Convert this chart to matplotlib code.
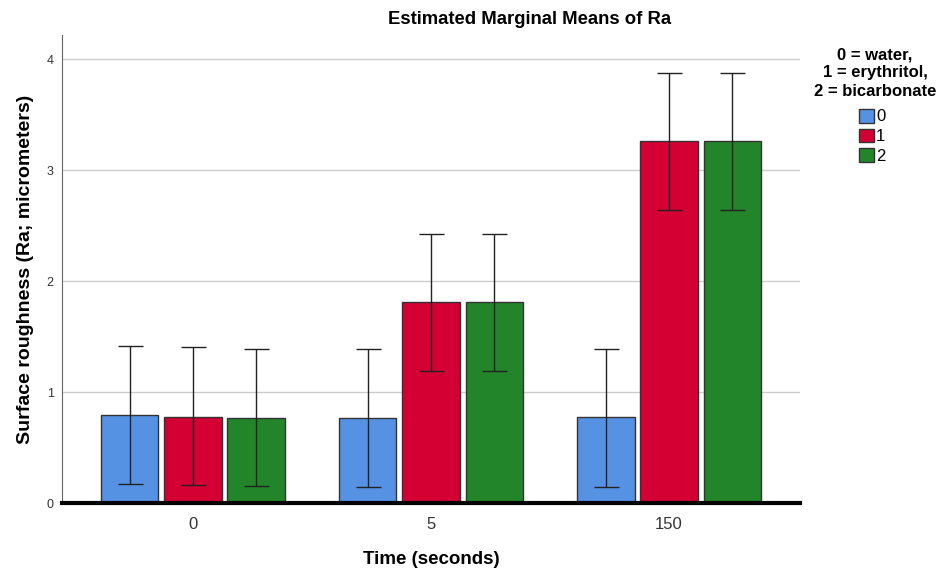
import matplotlib
matplotlib.use("Agg")
import matplotlib.pyplot as plt
import numpy as np

plt.rcParams['font.family'] = ['Liberation Sans', 'DejaVu Sans']

times = ["0", "5", "150"]
groups = ["0", "1", "2"]
means = {
    "0": [0.79, 0.77, 0.775],
    "1": [0.775, 1.81, 3.26],
    "2": [0.765, 1.81, 3.26],
}
lower = {
    "0": [0.17, 0.145, 0.145],
    "1": [0.16, 1.19, 2.645],
    "2": [0.15, 1.19, 2.645],
}
upper = {
    "0": [1.415, 1.39, 1.39],
    "1": [1.405, 2.425, 3.88],
    "2": [1.39, 2.425, 3.88],
}
colors = {"0": "#5592E3", "1": "#D40034", "2": "#23852A"}
yticks = [0, 1, 2, 3, 4]

fig = plt.figure(figsize=(9.42, 5.70), dpi=100)
ax = fig.add_axes([62/942, 1 - 503/570, 738/942, 468/570])

x = np.arange(len(times))
width = 0.24
step = 0.265
for i, g in enumerate(groups):
    pos = x + (i - 1) * step
    m = np.array(means[g])
    lo = np.array(lower[g])
    hi = np.array(upper[g])
    ax.bar(pos, m, width=width, color=colors[g], edgecolor="#333333",
           linewidth=1.0, label=g, zorder=3)
    ax.errorbar(pos, m, yerr=[m - lo, hi - m], fmt="none", ecolor="#222222",
                elinewidth=1.0, capsize=9, capthick=1.0, zorder=4)

ax.set_xlim(-0.55, 2.55)
ax.set_ylim(0, 4.22)
ax.set_yticks(yticks)
ax.set_yticklabels([str(t) for t in yticks], fontsize=9, color="#333333")
ax.set_xticks(x)
ax.set_xticklabels(times, fontsize=12, color="#333333")
ax.tick_params(axis="x", length=0, pad=10)
ax.tick_params(axis="y", length=0, pad=6)
ax.yaxis.grid(True, color="#cccccc", linewidth=1.0, zorder=0)
ax.set_axisbelow(True)
for s in ["top", "right"]:
    ax.spines[s].set_visible(False)
ax.spines["left"].set_color("#666666")
ax.spines["left"].set_linewidth(0.8)
ax.spines["bottom"].set_color("black")
ax.spines["bottom"].set_linewidth(3)
ax.spines["bottom"].set_zorder(5)

ax.set_xlabel("Time (seconds)", fontsize=13.5, fontweight="bold", labelpad=14)
ax.set_ylabel("Surface roughness (Ra; micrometers)", fontsize=14,
              fontweight="bold", labelpad=9)

fig.text(530/942, 1 - 20/570, "Estimated Marginal Means of Ra", ha="center",
         va="center", fontsize=13.3, fontweight="bold")

leg = fig.legend(loc="upper left", bbox_to_anchor=(852/942, 1 - 102/570),
                 frameon=False, fontsize=12, handlelength=0.9, handleheight=0.9,
                 handletextpad=0.15, labelspacing=0.25, borderaxespad=0)
fig.text(875/942, 1 - 73/570, "0 = water,\n1 = erythritol,\n2 = bicarbonate",
         ha="center", va="center", fontsize=12, fontweight="bold",
         linespacing=1.25)

fig.savefig("out.png", dpi=100)
